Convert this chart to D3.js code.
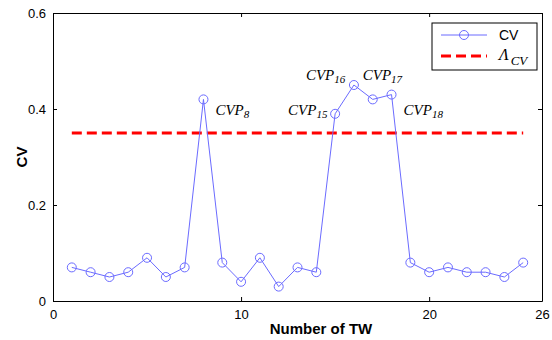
<!DOCTYPE html>
<html>
<head>
<meta charset="utf-8">
<script src="https://cdn.jsdelivr.net/npm/d3@7"></script>
<style>
  body { margin: 0; background: #fff; }
  svg { display: block; font-family: Arial, "Liberation Sans", sans-serif; }
</style>
</head>
<body>
<div id="chart"></div>
<script>
const tw = [1,2,3,4,5,6,7,8,9,10,11,12,13,14,15,16,17,18,19,20,21,22,23,24,25];
const cv = [0.07,0.06,0.05,0.06,0.09,0.05,0.07,0.42,0.08,0.04,0.09,0.03,0.07,0.06,0.39,0.45,0.42,0.43,0.08,0.06,0.07,0.06,0.06,0.05,0.08];
const threshold = 0.35;
const xTicks = [0, 10, 20, 26];
const yTicks = [0, 0.2, 0.4, 0.6];
// annotated peaks: TW number, label subscript
const peaks = [
  { tw: 8, sub: "8" },
  { tw: 15, sub: "15" },
  { tw: 16, sub: "16" },
  { tw: 17, sub: "17" },
  { tw: 18, sub: "18" }
];

const W = 552, H = 340;
const m = { left: 53, right: 10, top: 13, bottom: 39 };

const svg = d3.select("#chart").append("svg")
  .attr("width", W).attr("height", H);

const x = d3.scaleLinear().domain([0, 26]).range([m.left, W - m.right]);
const y = d3.scaleLinear().domain([0, 0.6]).range([H - m.bottom, m.top]);

// axes
const fmt = d => d === 0 ? "0" : (Number.isInteger(d) ? d : d3.format(".1f")(d));
svg.append("g")
  .attr("transform", `translate(0,${y(0)})`)
  .call(d3.axisBottom(x).tickValues(xTicks).tickSizeInner(-4).tickSizeOuter(0).tickPadding(9).tickFormat(fmt))
  .call(g => g.select(".domain").attr("stroke", "#000"))
  .call(g => g.selectAll("text").attr("font-size", 13).attr("fill", "#000"));
svg.append("g")
  .attr("transform", `translate(${x(0)},0)`)
  .call(d3.axisLeft(y).tickValues(yTicks).tickSizeInner(-4).tickSizeOuter(0).tickPadding(7).tickFormat(fmt))
  .call(g => g.select(".domain").attr("stroke", "#000"))
  .call(g => g.selectAll("text").attr("font-size", 13).attr("fill", "#000"));
svg.append("g")
  .attr("transform", `translate(0,${y(0.6)})`)
  .call(d3.axisTop(x).tickValues(xTicks).tickSizeInner(-4).tickSizeOuter(0).tickFormat(""));
svg.append("g")
  .attr("transform", `translate(${x(26)},0)`)
  .call(d3.axisRight(y).tickValues(yTicks).tickSizeInner(-4).tickSizeOuter(0).tickFormat(""));

// axis labels
svg.append("text")
  .attr("x", 321).attr("y", 334)
  .attr("text-anchor", "middle")
  .attr("font-size", 15).attr("font-weight", "bold")
  .text("Number of TW");
svg.append("text")
  .attr("transform", `translate(27,${(y(0) + y(0.6)) / 2}) rotate(-90)`)
  .attr("text-anchor", "middle")
  .attr("font-size", 15).attr("font-weight", "bold")
  .text("CV");

// threshold line
svg.append("line")
  .attr("x1", x(1)).attr("x2", x(25))
  .attr("y1", y(threshold)).attr("y2", y(threshold))
  .attr("stroke", "#ff0000").attr("stroke-width", 3)
  .attr("stroke-dasharray", "10,5");

// CV series
const blue = "#6b6bff";
const pts = tw.map((t, i) => [t, cv[i]]);
svg.append("path")
  .datum(pts)
  .attr("fill", "none").attr("stroke", blue).attr("stroke-width", 1)
  .attr("d", d3.line().x(d => x(d[0])).y(d => y(d[1])));
svg.append("g").selectAll("circle")
  .data(pts).enter().append("circle")
  .attr("cx", d => x(d[0])).attr("cy", d => y(d[1]))
  .attr("r", 4.5)
  .attr("fill", "none").attr("stroke", blue).attr("stroke-width", 1);

// peak annotations (offset from the marker)
const offs = { 8: [12, 16], 15: [-47, 1], 16: [-48, -5], 17: [-10, -19], 18: [12, 20] };
const ann = svg.append("g")
  .attr("font-family", "'Liberation Serif', 'Times New Roman', serif")
  .attr("font-style", "italic");
peaks.forEach(p => {
  const o = offs[p.tw];
  const t = ann.append("text")
    .attr("x", x(p.tw) + o[0])
    .attr("y", y(cv[p.tw - 1]) + o[1])
    .attr("font-size", 15);
  t.append("tspan").text("CVP");
  t.append("tspan").attr("font-size", 11).attr("dy", 3).text(p.sub);
});

// legend
const lg = svg.append("g").attr("transform", "translate(432,23)");
lg.append("rect")
  .attr("width", 105).attr("height", 47)
  .attr("fill", "#fff").attr("stroke", "#000").attr("stroke-width", 1);
lg.append("line").attr("x1", 9).attr("x2", 55).attr("y1", 12).attr("y2", 12)
  .attr("stroke", blue);
lg.append("circle").attr("cx", 32).attr("cy", 12).attr("r", 4.5)
  .attr("fill", "none").attr("stroke", blue);
lg.append("text").attr("x", 67).attr("y", 17).attr("font-size", 14).text("CV");
lg.append("line").attr("x1", 9).attr("x2", 55).attr("y1", 33).attr("y2", 33)
  .attr("stroke", "#ff0000").attr("stroke-width", 3).attr("stroke-dasharray", "10,5");
const lt = lg.append("text").attr("x", 67).attr("y", 37)
  .attr("font-family", "'Liberation Serif', 'Times New Roman', serif")
  .attr("font-style", "italic").attr("font-size", 16);
lt.append("tspan").text("Λ");
lt.append("tspan").attr("font-size", 13).attr("dy", 5).attr("dx", 2).text("CV");
</script>
</body>
</html>
